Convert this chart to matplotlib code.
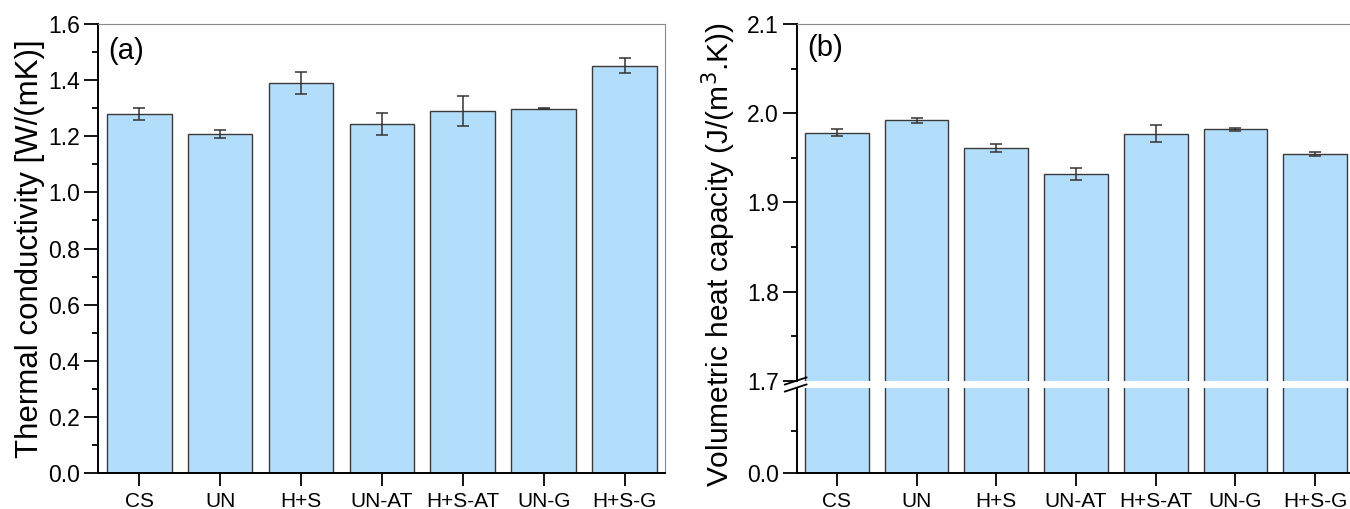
import matplotlib
matplotlib.use('Agg')
import matplotlib.pyplot as plt
from matplotlib.ticker import MultipleLocator, FixedLocator, FormatStrFormatter
import numpy as np

# data
samples = ['CS', 'UN', 'H+S', 'UN-AT', 'H+S-AT', 'UN-G', 'H+S-G']
k_vals = [1.28, 1.209, 1.390, 1.244, 1.289, 1.299, 1.451]
k_err = [0.021, 0.015, 0.038, 0.040, 0.054, 0.002, 0.027]
cv_vals = [1.978, 1.992, 1.961, 1.932, 1.977, 1.982, 1.954]
cv_err = [0.004, 0.003, 0.0047, 0.0067, 0.0093, 0.002, 0.002]

plt.rcParams['font.family'] = ['Liberation Sans', 'DejaVu Sans']
bar_col = '#b3defb'
edge_col = '#3a3a3a'

fig = plt.figure(figsize=(13.5, 5.09), dpi=100)
x = np.arange(len(samples))


def style_ticks(ax):
    ax.tick_params(axis='y', direction='out', length=10, width=1.3, labelsize=16.5, pad=3)
    ax.tick_params(axis='y', which='minor', direction='out', length=4.5, width=1.3)
    ax.tick_params(axis='x', direction='out', length=9, width=1.3, labelsize=15, pad=5)
    ax.spines['left'].set_linewidth(1.4)
    ax.spines['bottom'].set_linewidth(1.4)
    ax.spines['top'].set_color('#8a8a8a')
    ax.spines['right'].set_color('#8a8a8a')


# (a) thermal conductivity
ax1 = fig.add_axes([0.0726, 0.0707, 0.42, 0.882])
ax1.bar(x, k_vals, width=0.8, color=bar_col, edgecolor=edge_col, linewidth=1.0)
ax1.errorbar(x, k_vals, yerr=k_err, fmt='none', ecolor='#333333', elinewidth=1.1, capsize=4, capthick=1.1)
ax1.set_xlim(-0.51, 6.5)
ax1.set_ylim(0, 1.6)
ax1.yaxis.set_major_locator(MultipleLocator(0.2))
ax1.yaxis.set_minor_locator(MultipleLocator(0.1))
ax1.yaxis.set_major_formatter(FormatStrFormatter('%.1f'))
ax1.set_xticks(x)
ax1.set_xticklabels(samples)
style_ticks(ax1)
fig.text(0.022, 0.512, 'Thermal conductivity [W/(mK)]', rotation=90, fontsize=22.5,
         ha='center', va='center')
ax1.text(0.018, 0.94, '(a)', transform=ax1.transAxes, fontsize=21, va='center')

# (b) volumetric heat capacity, broken axis
w_b = 0.4133
ax_hi = fig.add_axes([0.5904, 0.2515, w_b, 0.7014])
ax_lo = fig.add_axes([0.5904, 0.0707, w_b, 0.167])
for ax in (ax_hi, ax_lo):
    ax.bar(x, cv_vals, width=0.8, color=bar_col, edgecolor=edge_col, linewidth=1.0)
    ax.set_xlim(-0.5, 6.5)
ax_hi.errorbar(x, cv_vals, yerr=cv_err, fmt='none', ecolor='#333333', elinewidth=1.1, capsize=4, capthick=1.1)
ax_hi.set_ylim(1.7, 2.1)
ax_hi.yaxis.set_major_locator(MultipleLocator(0.1))
ax_hi.yaxis.set_minor_locator(MultipleLocator(0.05))
ax_hi.yaxis.set_major_formatter(FormatStrFormatter('%.1f'))
ax_hi.set_xticks([])
ax_hi.spines['bottom'].set_visible(False)
ax_lo.set_ylim(0, 1.0)
ax_lo.yaxis.set_major_locator(FixedLocator([0.0]))
ax_lo.yaxis.set_minor_locator(FixedLocator([0.5]))
ax_lo.yaxis.set_major_formatter(FormatStrFormatter('%.1f'))
ax_lo.set_xticks(x)
ax_lo.set_xticklabels(samples)
ax_lo.spines['top'].set_visible(False)
ax_lo.spines['right'].set_visible(False)
style_ticks(ax_hi)
style_ticks(ax_lo)
ax_hi.spines['right'].set_visible(False)
ax_hi.text(0.019, 0.933, '(b)', transform=ax_hi.transAxes, fontsize=21, va='center')

# break marks on left spine
xb = 0.5904
for yb in (0.2515, 0.2377):
    fig.add_artist(plt.Line2D([xb - 0.009, xb + 0.007], [yb - 0.007, yb + 0.007],
                              transform=fig.transFigure, color='black', lw=1.3))

fig.text(0.5325, 0.5, 'Volumetric heat capacity (J/(m$^3$.K))', rotation=90, fontsize=21.5,
         ha='center', va='center')

fig.savefig('out.png', dpi=100)
